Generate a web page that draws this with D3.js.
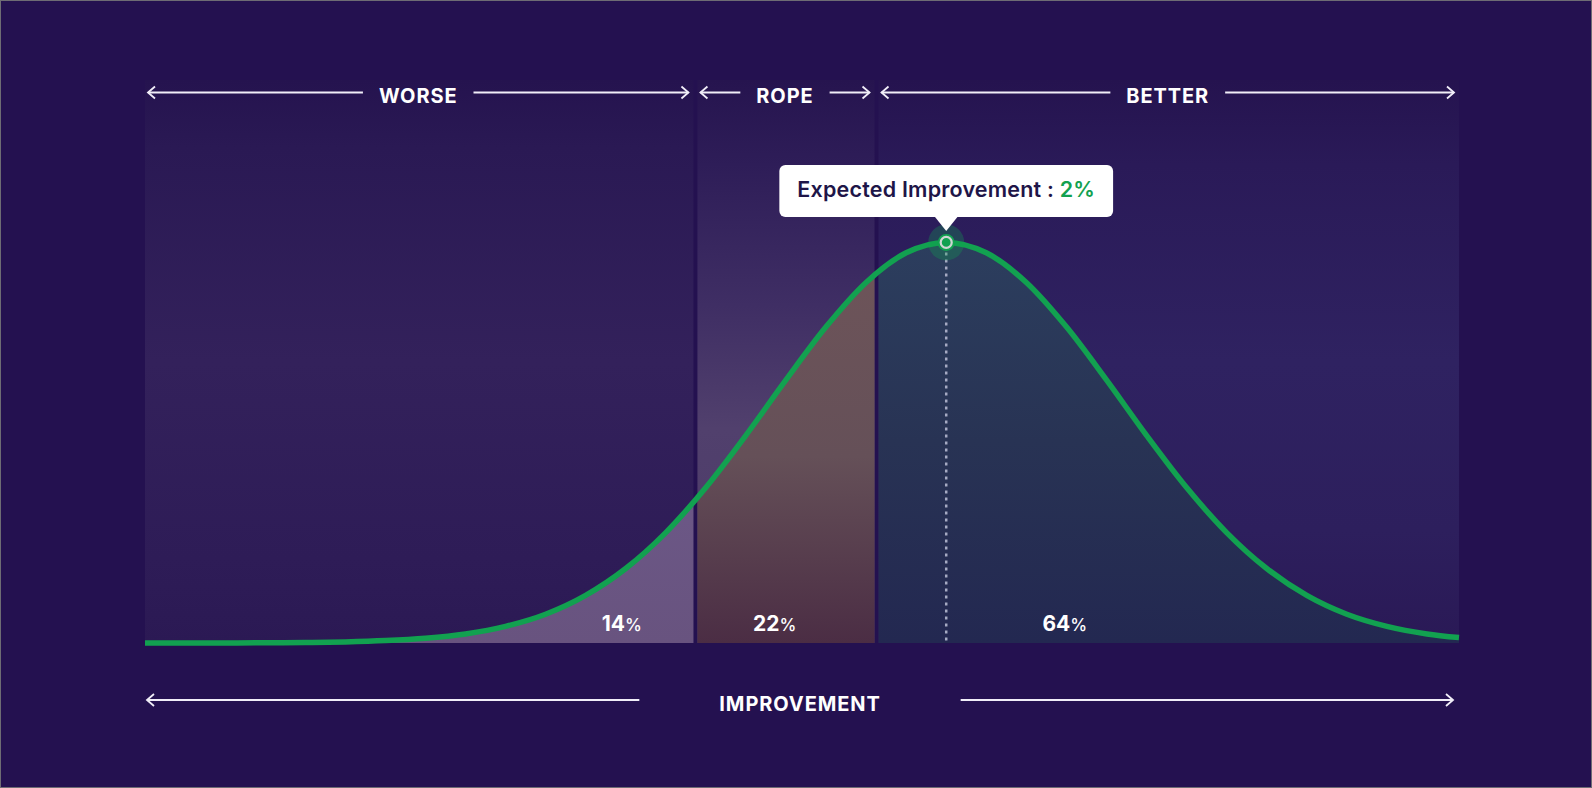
<!DOCTYPE html>
<html>
<head>
<meta charset="utf-8">
<script src="https://cdn.jsdelivr.net/npm/d3@7"></script>
<style>
	html, body { margin: 0; padding: 0; background: #241150; }
	svg { display: block; }
	text { font-family: Inter, "Noto Sans", sans-serif; }
</style>
</head>
<body>
<div id="graph"></div>
<script>
// values: improvement (%) and posterior density
const improvement = [-8, -7.5, -7, -6.5, -6, -5.5, -5, -4.5, -4, -3.5, -3, -2.5, -2, -1.5, -1, -0.5,
	0, 0.5, 1, 1.5, 2, 2.5, 3, 3.5, 4, 4.5, 5, 5.5, 6, 6.5, 7, 7.5, 8, 8.4];
const density = [0.0000, 0.0000, 0.0000, 0.0001, 0.0002, 0.0005, 0.0011, 0.0022, 0.0042, 0.0077, 0.0133, 0.0220, 0.0344, 0.0510, 0.0718, 0.0959,
	0.1215, 0.1460, 0.1665, 0.1802, 0.1850, 0.1802, 0.1665, 0.1460, 0.1215, 0.0959, 0.0718, 0.0510, 0.0344, 0.0220, 0.0133, 0.0077, 0.0042, 0.0025];

const regions = ["WORSE", "ROPE", "BETTER"];
const region_bounds = [-8, -1.13, 1.13, 8.4];
const region_share = [14, 22, 64];
const share_at = [-2.05, -0.14, 3.48];   // where each share label sits, in % improvement
const expected_improvement = 2;
const tooltip_label = "Expected Improvement : ";
const axis_title = "IMPROVEMENT";

const params = {
		width: 1592,
		height: 788,
		left: 145,
		right: 1459,
		top: 80,
		baseline: 643,
		gap: 2,
		bg: "#241150",
		green: "#12a150",
		arrow_color: "#f1eef8"
	},
	root_graph = d3.select('#graph');

const x = d3.scaleLinear().domain([region_bounds[0], region_bounds[3]]).range([params.left, params.right]),
	y = d3.scaleLinear().domain([0, 0.26]).range([params.baseline, params.top]);

const points = improvement.map((v, i) => ({x: v, y: density[i]}));

const svg = root_graph.append("svg")
	.attr("width", params.width)
	.attr("height", params.height);

svg.append("rect")
	.attr("width", params.width)
	.attr("height", params.height)
	.attr("fill", params.bg);

const defs = svg.append("defs");

function gradient(id, y1, y2, stops) {
	let g = defs.append("linearGradient")
		.attr("id", id)
		.attr("gradientUnits", "userSpaceOnUse")
		.attr("x1", 0).attr("x2", 0)
		.attr("y1", y1).attr("y2", y2);
	stops.forEach(s => g.append("stop").attr("offset", s[0]).attr("stop-color", s[1]));
}

// panel backgrounds (above the curve) and fills below the curve
gradient("bg0", params.top, params.baseline, [[0, "#25134f"], [0.12, "#2a1954"], [0.5, "#33215b"], [0.85, "#2e1c57"], [1, "#2b1954"]]);
gradient("bg1", params.top, params.baseline, [[0, "#26144f"], [0.15, "#2e1d58"], [0.4, "#3f2e64"], [0.62, "#51406d"], [1, "#4a3866"]]);
gradient("bg2", params.top, params.baseline, [[0, "#25134f"], [0.15, "#2a1a58"], [0.5, "#2f2261"], [0.8, "#2d1f5d"], [1, "#2a1956"]]);
gradient("under0", 480, params.baseline, [[0, "#6c5887"], [1, "#68537f"]]);
gradient("under1", 270, params.baseline, [[0, "#6d5459"], [0.5, "#655058"], [1, "#4b2d44"]]);
gradient("under2", 240, params.baseline, [[0, "#2c3e5e"], [0.5, "#283354"], [1, "#232851"]]);

const panels = regions.map((name, i) => ({
	name: name,
	x0: x(region_bounds[i]) + (i > 0 ? params.gap : 0),
	x1: x(region_bounds[i + 1]) - (i < regions.length - 1 ? params.gap : 0)
}));

panels.forEach((p, i) => {
	defs.append("clipPath")
		.attr("id", `clip${i}`)
		.append("rect")
		.attr("x", p.x0)
		.attr("y", params.top)
		.attr("width", p.x1 - p.x0)
		.attr("height", params.baseline - params.top);
});

svg.append("g")
	.selectAll("rect")
	.data(panels)
	.join("rect")
	.attr("x", d => d.x0)
	.attr("y", params.top)
	.attr("width", d => d.x1 - d.x0)
	.attr("height", params.baseline - params.top)
	.attr("fill", (d, i) => `url(#bg${i})`);

const area = d3.area()
	.x(d => x(d.x))
	.y0(y(0))
	.y1(d => y(d.y))
	.curve(d3.curveMonotoneX);

const line = d3.line()
	.x(d => x(d.x))
	.y(d => y(d.y))
	.curve(d3.curveMonotoneX);

panels.forEach((p, i) => {
	svg.append("path")
		.datum(points)
		.attr("clip-path", `url(#clip${i})`)
		.attr("fill", `url(#under${i})`)
		.attr("d", area);
});

// share labels at the foot of each region
const shares = svg.append("g")
	.selectAll("text")
	.data(region_share)
	.join("text")
	.attr("x", (d, i) => x(share_at[i]))
	.attr("y", params.baseline - 12)
	.attr("text-anchor", "middle")
	.attr("fill", "#ffffff");
shares.append("tspan")
	.attr("font-size", 21)
	.attr("font-weight", 700)
	.text(d => d);
shares.append("tspan")
	.attr("font-size", 17)
	.attr("font-weight", 500)
	.text("%");

// dotted marker down from the expected value
const peak = points.find(d => d.x === expected_improvement);
svg.append("line")
	.attr("x1", x(peak.x)).attr("x2", x(peak.x))
	.attr("y1", y(peak.y) + 10)
	.attr("y2", params.baseline)
	.attr("stroke", "#a6aac3")
	.attr("stroke-width", 2.5)
	.attr("stroke-dasharray", "3 4");

svg.append("path")
	.datum(points)
	.attr("fill", "none")
	.attr("stroke", params.green)
	.attr("stroke-width", 5.5)
	.attr("d", line);

// point at the peak
svg.append("circle")
	.attr("cx", x(peak.x)).attr("cy", y(peak.y))
	.attr("r", 18)
	.attr("fill", params.green)
	.attr("fill-opacity", 0.3);
svg.append("circle")
	.attr("cx", x(peak.x)).attr("cy", y(peak.y))
	.attr("r", 8.5)
	.attr("fill", params.green);
svg.append("circle")
	.attr("cx", x(peak.x)).attr("cy", y(peak.y))
	.attr("r", 5.5)
	.attr("fill", params.green)
	.attr("stroke", "#cfd6d4")
	.attr("stroke-width", 2.2);

// tooltip
const tip = svg.append("g");
const tip_box = tip.append("rect");
const tip_text = tip.append("text")
	.attr("x", x(peak.x))
	.attr("y", 197)
	.attr("text-anchor", "middle")
	.attr("font-size", 21.5)
	.attr("font-weight", 600)
	.attr("letter-spacing", 0.2);
tip_text.append("tspan").attr("fill", "#1e1548").text(tooltip_label);
tip_text.append("tspan").attr("fill", params.green).text(`${expected_improvement}%`);
const tw = tip_text.node().getComputedTextLength();
tip_box
	.attr("x", x(peak.x) - tw / 2 - 18)
	.attr("y", 165)
	.attr("width", tw + 36)
	.attr("height", 52)
	.attr("rx", 6)
	.attr("fill", "#ffffff");
tip.append("path")
	.attr("d", `M${x(peak.x) - 12},216 L${x(peak.x)},231 L${x(peak.x) + 12},216 Z`)
	.attr("fill", "#ffffff");

// double headed arrow with a label in the middle
function arrow_label(xa, xb, ly, label, size, gap, text_dy) {
	let g = svg.append("g"),
		cx = (xa + xb) / 2;
	let t = g.append("text")
		.attr("x", cx)
		.attr("y", ly + text_dy)
		.attr("text-anchor", "middle")
		.attr("font-size", size)
		.attr("font-weight", 700)
		.attr("letter-spacing", 0.9)
		.attr("fill", "#ffffff")
		.text(label);
	let w = t.node().getComputedTextLength();
	let segs = [[xa, cx - w / 2 - gap], [cx + w / 2 + gap, xb]];
	segs.forEach(s => {
		g.append("line")
			.attr("x1", s[0]).attr("x2", s[1])
			.attr("y1", ly).attr("y2", ly)
			.attr("stroke", params.arrow_color)
			.attr("stroke-width", 1.8);
	});
	g.append("path")
		.attr("d", `M${xa + 7},${ly - 6} L${xa},${ly} L${xa + 7},${ly + 6}`)
		.attr("fill", "none")
		.attr("stroke", params.arrow_color)
		.attr("stroke-width", 1.8);
	g.append("path")
		.attr("d", `M${xb - 7},${ly - 6} L${xb},${ly} L${xb - 7},${ly + 6}`)
		.attr("fill", "none")
		.attr("stroke", params.arrow_color)
		.attr("stroke-width", 1.8);
}

panels.forEach(p => arrow_label(p.x0 + 3, p.x1 - 5, 92.5, p.name, 20, 16, 10));
arrow_label(x.range()[0] + 2, x.range()[1] - 6, 700, axis_title, 20, 80, 10.5);

// thin frame round the picture
svg.append("rect")
	.attr("x", 0.5).attr("y", 0.5)
	.attr("width", params.width - 1)
	.attr("height", params.height - 1)
	.attr("fill", "none")
	.attr("stroke", "#6e6c74");
</script>
</body>
</html>
